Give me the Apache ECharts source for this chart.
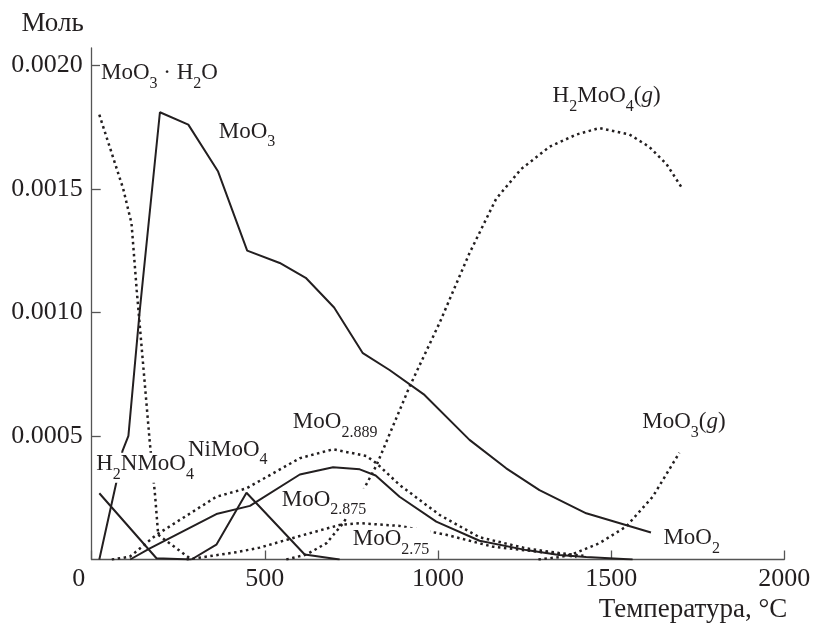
<!DOCTYPE html>
<html>
<head>
<meta charset="utf-8">
<script src="https://cdn.jsdelivr.net/npm/echarts@6/dist/echarts.min.js"></script>
<style>
html, body { margin: 0; padding: 0; background: #fff; }
#chart { width: 814px; height: 635px; }
</style>
</head>
<body>
<div id="chart"></div>
<script>
// ticks
var yTicks = [0.0005, 0.0010, 0.0015, 0.0020]

// [temperature, mol]
var moo3h2o = [[22, 0.00180], [91, 0.00150], [115, 0.00136], [130, 0.00109], [154, 0.00070], [168, 0.00047], [183, 0.00026], [192, 0.00010], [288, 0]]
var moo3 = [[22, 0], [74, 0.00033], [89, 0.00044], [106, 0.00050], [139, 0.00101], [197, 0.00181], [279, 0.00176], [365, 0.00157], [449, 0.00125], [543, 0.00120], [618, 0.00114], [700, 0.00102], [783, 0.000835], [860, 0.000767], [961, 0.000666], [1091, 0.000484], [1197, 0.000369], [1293, 0.000281], [1428, 0.000187], [1615, 0.000109]]
var h2nmoo4 = [[22, 0.000268], [187, 0.000005], [288, 0]]
var nimoo4 = [[288, 0], [360, 0.00006], [447, 0.00027], [615, 0.00002], [716, 0]]
var moo2875 = [[111, 0], [168, 0.000045], [360, 0.000184], [457, 0.000217], [601, 0.000344], [697, 0.000373], [774, 0.000365], [820, 0.00034], [889, 0.000254], [995, 0.000153], [1120, 0.000076], [1255, 0.000038], [1350, 0.000018], [1428, 0.00001], [1562, 0]]
var moo2889 = [[58, 0], [110, 0.000011], [187, 0.0001], [360, 0.000254], [447, 0.000288], [601, 0.00041], [697, 0.000446], [793, 0.000419], [822, 0.00039], [889, 0.000302], [1005, 0.00018], [1120, 0.00009], [1255, 0.000045], [1350, 0.000026], [1420, 0.000015]]
var moo275 = [[274, 0], [420, 0.00003], [485, 0.000048], [601, 0.000095], [716, 0.00014], [774, 0.000147], [889, 0.000136], [1024, 0.0001], [1158, 0.000052], [1350, 0.000022], [1400, 0.00001]]
var h2moo4g = [[562, 0], [620, 0.00002], [678, 0.000066], [726, 0.000147], [774, 0.000254], [822, 0.00038], [918, 0.0007], [1004, 0.000956], [1091, 0.00124], [1168, 0.00146], [1240, 0.00158], [1322, 0.00167], [1400, 0.00172], [1466, 0.001746], [1553, 0.00172], [1610, 0.00167], [1660, 0.0016], [1706, 0.0015]]
var moo3g = [[1290, 0], [1352, 0.00001], [1389, 0.000022], [1466, 0.000066], [1543, 0.000133], [1620, 0.000254], [1697, 0.000432]]

// curve names, anchored at [temperature, mol]
var labelSpots = [
  [24, 0.001966, '{m|MoO}{s|3}{m| · H}{s|2}{m|O}'],
  [364, 0.00173, '{m|MoO}{s|3}'],
  [1328, 0.001873, '{m|H}{s|2}{m|MoO}{s|4}{m|(}{i|g}{m|)}'],
  [578, 0.000553, '{m|MoO}{s|2.889}'],
  [1587, 0.000553, '{m|MoO}{s|3}{m|(}{i|g}{m|)}'],
  [10, 0.000383, '{m|H}{s|2}{m|NMoO}{s|4}'],
  [275, 0.000443, '{m|NiMoO}{s|4}'],
  [546, 0.00024, '{m|MoO}{s|2.875}'],
  [751, 0.00008, '{m|MoO}{s|2.75}'],
  [1648, 0.000085, '{m|MoO}{s|2}']
]

var chart = echarts.init(document.getElementById('chart'))
var ink = '#231f20'
var axisColor = '#555'
var font = 'Liberation Serif'

function solid(name, data) {
  return {
    name: name, type: 'line', data: data, showSymbol: false, z: 2,
    lineStyle: {color: ink, width: 2}
  }
}
function dotted(name, data) {
  return {
    name: name, type: 'line', data: data, showSymbol: false, z: 2,
    lineStyle: {color: ink, width: 2.5, type: [2.5, 3.5]}
  }
}

chart.setOption({
  animation: false,
  backgroundColor: '#fff',
  grid: {left: 91.7, right: 29.7, top: 48, bottom: 75.5},
  xAxis: {
    type: 'value', min: 0, max: 2000, interval: 500,
    name: 'Температура, °C',
    nameLocation: 'end',
    nameGap: 3,
    nameTextStyle: {fontFamily: font, fontSize: 27, color: ink, align: 'right', verticalAlign: 'top', padding: [37, 0, 0, 0]},
    axisLine: {lineStyle: {color: axisColor, width: 1.3}},
    axisTick: {inside: true, length: 9, lineStyle: {color: axisColor, width: 1.3}},
    splitLine: {show: false},
    axisLabel: {
      margin: 7, fontFamily: font, fontSize: 26, color: ink,
      formatter: function (v) { return v === 0 ? '{z|0}' : String(v) },
      rich: {z: {fontFamily: font, fontSize: 26, color: ink, padding: [0, 26, 0, 0]}}
    }
  },
  yAxis: {
    type: 'value', min: 0, max: 0.00207,
    name: 'Моль',
    nameLocation: 'end',
    nameGap: 11,
    nameTextStyle: {fontFamily: font, fontSize: 27, color: ink, align: 'right', padding: [0, 8, 0, 0]},
    axisLine: {show: true, lineStyle: {color: axisColor, width: 1.3}},
    axisTick: {show: true, inside: true, length: 9, customValues: yTicks, lineStyle: {color: axisColor, width: 1.3}},
    splitLine: {show: false},
    axisLabel: {
      margin: 9, fontFamily: font, fontSize: 26, color: ink, customValues: yTicks,
      formatter: function (v) { return v.toFixed(4) }
    }
  },
  series: [
    dotted('MoO3·H2O', moo3h2o),
    solid('MoO3', moo3),
    solid('H2NMoO4', h2nmoo4),
    solid('NiMoO4', nimoo4),
    solid('MoO2.875', moo2875),
    dotted('MoO2.889', moo2889),
    dotted('MoO2.75', moo275),
    dotted('H2MoO4(g)', h2moo4g),
    dotted('MoO3(g)', moo3g),
    {
      type: 'scatter', z: 5, silent: true, symbolSize: 0,
      itemStyle: {color: 'transparent', opacity: 1},
      data: labelSpots.map(function (l) { return {value: [l[0], l[1]], name: l[2]} }),
      label: {
        show: true, position: 'right', distance: 0, offset: [0, 3],
        formatter: function (p) { return p.name },
        fontFamily: font, fontSize: 23, color: ink,
        backgroundColor: '#fff', padding: [0, 1],
        rich: {
          m: {fontFamily: font, fontSize: 23, color: ink, lineHeight: 24, verticalAlign: 'top'},
          s: {fontFamily: font, fontSize: 16, color: ink, lineHeight: 30, verticalAlign: 'bottom'},
          i: {fontFamily: font, fontSize: 23, color: ink, fontStyle: 'italic', lineHeight: 24, verticalAlign: 'top'}
        }
      }
    }
  ]
})
</script>
</body>
</html>
